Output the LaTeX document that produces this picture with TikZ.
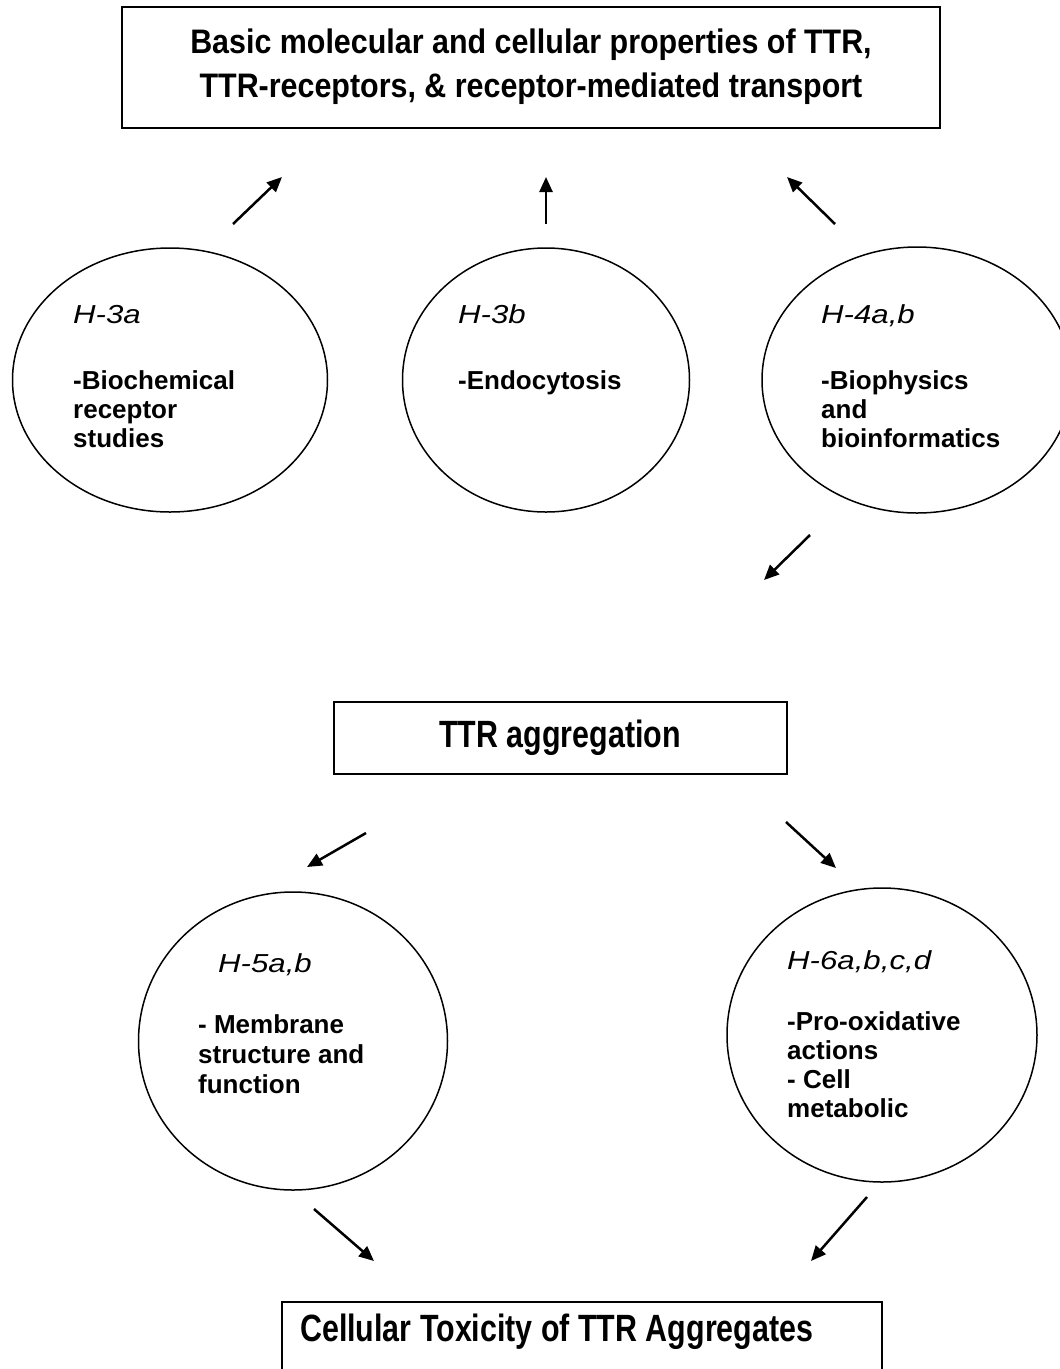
\documentclass[tikz,border=0pt]{standalone}
\usepackage{fontspec}
\setmainfont{Liberation Sans}
\newfontfamily\topfont{Liberation Sans}[FakeStretch=0.895]
\newfontfamily\midfont{Liberation Sans}[FakeStretch=0.80]
\newfontfamily\hfont{Liberation Sans}[FakeStretch=1.2]
\usetikzlibrary{shapes.geometric,arrows.meta}
\tikzset{
  boxframe/.style={draw=black,line width=2.2pt,rectangle,inner sep=0pt,outer sep=0pt},
  oval/.style={draw=black,line width=1.5pt,ellipse,inner sep=0pt,outer sep=0pt},
  arr/.style={line width=2.5pt,-{Triangle[length=15pt,width=13pt]}},
  toptxt/.style={anchor=base,inner sep=0pt,font=\topfont\bfseries\fontsize{34}{40}\selectfont},
  midtxt/.style={anchor=base,inner sep=0pt,font=\midfont\bfseries\fontsize{38}{44}\selectfont},
  hlab/.style={anchor=base west,inner sep=0pt,font=\hfont\itshape\fontsize{26}{30}\selectfont},
  bodytxt/.style={anchor=base west,inner sep=0pt,font=\bfseries\fontsize{26}{30}\selectfont}
}
\begin{document}
\begin{tikzpicture}[x=1pt,y=-1pt]
\useasboundingbox (0,0) rectangle (1060,1369);
\clip (0,0) rectangle (1060,1369);
\fill[white] (0,0) rectangle (1060,1369);

% top box
\node[boxframe,minimum width=818pt,minimum height=121pt] (topbox) at (531,67.5) {};
\node[toptxt] (top1) at (531,53) {Basic molecular and cellular properties of TTR,};
\node[toptxt] (top2) at (531,97) {TTR-receptors, \& receptor-mediated transport};

% first row of ellipses
\node[oval,minimum width=315pt,minimum height=264pt] (e1) at (170,380) {};
\node[oval,minimum width=287pt,minimum height=264pt] (e2) at (546,380) {};
\node[oval,minimum width=310pt,minimum height=266pt] (e3) at (917,380) {};

\node[hlab] (e1h) at (73,323) {H-3a};
\node[bodytxt] (e1a) at (73,389) {-Biochemical};
\node[bodytxt] (e1b) at (73,418) {receptor};
\node[bodytxt] (e1c) at (73,447) {studies};

\node[hlab] (e2h) at (458,323) {H-3b};
\node[bodytxt] (e2a) at (458,389) {-Endocytosis};

\node[hlab] (e3h) at (821,323) {H-4a,b};
\node[bodytxt] (e3a) at (821,389) {-Biophysics};
\node[bodytxt] (e3b) at (821,418) {and};
\node[bodytxt] (e3c) at (821,447) {bioinformatics};

% middle box
\node[boxframe,minimum width=453pt,minimum height=72pt] (midbox) at (560.5,738) {};
\node[midtxt] (midt) at (560,747) {TTR aggregation};

% second row of ellipses
\node[oval,minimum width=309pt,minimum height=298pt] (e4) at (293,1041) {};
\node[oval,minimum width=310pt,minimum height=294pt] (e5) at (882,1035) {};

\node[hlab] (e4h) at (218,972) {H-5a,b};
\node[bodytxt] (e4a) at (198,1033) {- Membrane};
\node[bodytxt] (e4b) at (198,1063) {structure and};
\node[bodytxt] (e4c) at (198,1093) {function};

\node[hlab] (e5h) at (787,969) {H-6a,b,c,d};
\node[bodytxt] (e5a) at (787,1030) {-Pro-oxidative};
\node[bodytxt] (e5b) at (787,1059) {actions};
\node[bodytxt] (e5c) at (787,1088) {- Cell};
\node[bodytxt] (e5d) at (787,1117) {metabolic};

% bottom box (cut by the page edge)
\node[boxframe,minimum width=600pt,minimum height=100pt] (botbox) at (582,1352) {};
\node[midtxt,anchor=base west] (bott) at (300,1341) {Cellular Toxicity of TTR Aggregates};

% arrow end points
\coordinate (a1s) at (233,224); \coordinate (a1e) at (282,177);
\coordinate (a2s) at (546,224); \coordinate (a2e) at (546,177);
\coordinate (a3s) at (835,224); \coordinate (a3e) at (787,177);
\coordinate (a4s) at (810,535); \coordinate (a4e) at (764,580);
\coordinate (a5s) at (366,833); \coordinate (a5e) at (307,867);
\coordinate (a6s) at (786,822); \coordinate (a6e) at (836,868);
\coordinate (a7s) at (314,1209); \coordinate (a7e) at (374,1261);
\coordinate (a8s) at (867,1197); \coordinate (a8e) at (811,1261);

\draw[arr] (a1s) -- (a1e);
\draw[arr] (a2s) -- (a2e);
\draw[arr] (a3s) -- (a3e);
\draw[arr] (a4s) -- (a4e);
\draw[arr] (a5s) -- (a5e);
\draw[arr] (a6s) -- (a6e);
\draw[arr] (a7s) -- (a7e);
\draw[arr] (a8s) -- (a8e);
\end{tikzpicture}
\end{document}
